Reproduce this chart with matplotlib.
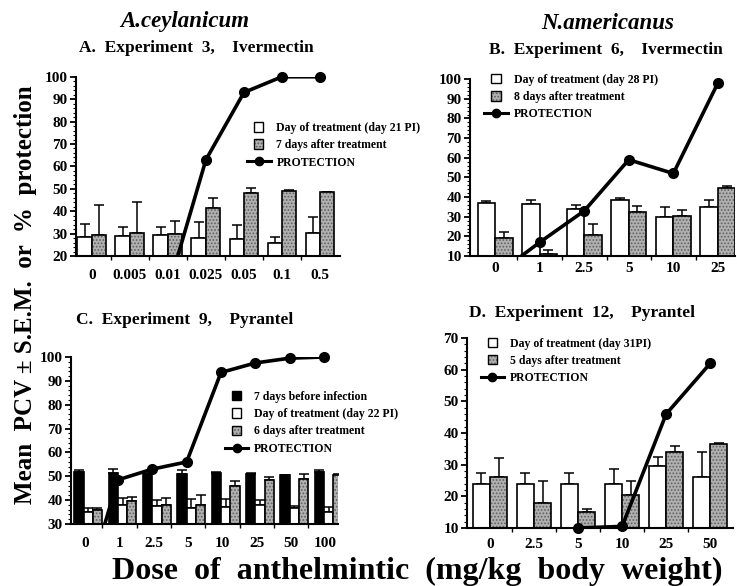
import numpy as np
import matplotlib
matplotlib.use("Agg")
import matplotlib.pyplot as plt
from matplotlib.patches import Rectangle, Patch
from matplotlib.lines import Line2D
from matplotlib.legend_handler import HandlerPatch
from matplotlib.ticker import MultipleLocator, FixedLocator

plt.rcParams['font.family'] = ['Liberation Serif', 'DejaVu Serif']
plt.rcParams['font.weight'] = 'bold'
plt.rcParams['hatch.linewidth'] = 0.8

# ---------------- data ----------------
a_doses = ["0", "0.005", "0.01", "0.025", "0.05", "0.1", "0.5"]
a_day = [28.5, 29, 29.5, 28, 27.5, 26, 30.5]
a_day_sem = [6, 4, 3.5, 7, 6.5, 2.5, 7]
a_after = [29.5, 30.5, 30, 41.5, 48, 49, 48.5]
a_after_sem = [13.5, 13.5, 5.5, 4.5, 2.5, 0.5, 0.3]
a_prot = [np.nan, np.nan, 5, 63, 93, 100, 100]

b_doses = ["0", "1", "2.5", "5", "10", "25"]
b_day = [37, 36.5, 34, 38.5, 30, 35]
b_day_sem = [1, 2, 2, 1, 5, 3.5]
b_after = [19, 11, 20.5, 32.5, 30.5, 44.5]
b_after_sem = [3.5, 2, 6, 3, 3, 1]
b_prot = [0, 17, 33, 59, 52, 98]

c_doses = ["0", "1", "2.5", "5", "10", "25", "50", "100"]
c_before = [52, 51.5, 51, 51, 51.5, 51, 50.5, 52]
c_before_sem = [0.5, 1.5, 0.5, 1.5, 0.5, 0.5, 0.2, 0.5]
c_day = [35, 38, 37.5, 36.5, 37, 38, 36.5, 35]
c_day_sem = [1.5, 3, 2.5, 4, 3.5, 2, 1, 2]
c_after = [36, 39.5, 38, 38, 46, 48.5, 49, 50.5]
c_after_sem = [0.5, 2, 3, 4, 2, 1, 2, 0.3]
c_prot = [0, 48.5, 53, 56, 93.5, 97.5, 99.5, 100]

d_doses = ["0", "2.5", "5", "10", "25", "50"]
d_day = [24, 24, 24, 24, 29.5, 26]
d_day_sem = [3.5, 3.5, 3.5, 4.5, 3, 8]
d_after = [26, 18, 15, 20.5, 34, 36.5]
d_after_sem = [6, 7, 1, 4.5, 2, 0.5]
d_prot = [np.nan, np.nan, 10, 10.5, 46, 62]

# ---------------- styles ----------------
GRAY = '#b0b0b0'
HATCHC = '#606060'
TICKFS = 11

fig = plt.figure(figsize=(7.37, 5.86), dpi=100)


def bars(ax, x, vals, sem, w, kind):
    x = np.asarray(x, float)
    if kind == 'white':
        ax.bar(x, vals, w, color='white', edgecolor='black', lw=1.2, zorder=2)
    elif kind == 'black':
        ax.bar(x, vals, w, color='black', edgecolor='black', lw=1.2, zorder=2)
    else:
        ax.bar(x, vals, w, color=GRAY, edgecolor=HATCHC, hatch='.....', lw=0, zorder=2)
        ax.bar(x, vals, w, fill=False, edgecolor='black', lw=1.2, zorder=2.1)
    ax.errorbar(x, vals, yerr=[np.zeros(len(vals)), sem], fmt='none', ecolor='black',
                elinewidth=1.1, capsize=3.5, capthick=1.1, zorder=1.5)


class SquareHandler(HandlerPatch):
    def create_artists(self, legend, orig_handle, xdescent, ydescent, width, height,
                       fontsize, trans):
        s = height * 1.15
        x0 = -xdescent + (width - s) / 2
        y0 = -ydescent + (height - s) / 2
        if orig_handle.get_hatch():
            p1 = Rectangle((x0, y0), s, s, facecolor=GRAY, edgecolor=HATCHC,
                           hatch='.....', lw=0, transform=trans)
            p2 = Rectangle((x0, y0), s, s, fill=False, edgecolor='black', lw=1.0,
                           transform=trans)
            return [p1, p2]
        p = Rectangle((x0, y0), s, s, facecolor=orig_handle.get_facecolor(),
                      edgecolor='black', lw=1.0, transform=trans)
        return [p]


def style_axis(ax, ylim, ymaj, n, xlim, xpad):
    ax.set_ylim(*ylim)
    ax.set_xlim(*xlim)
    ax.yaxis.set_major_locator(MultipleLocator(ymaj))
    ax.yaxis.set_minor_locator(MultipleLocator(2))
    for s in ['top', 'right']:
        ax.spines[s].set_visible(False)
    for s in ['left', 'bottom']:
        ax.spines[s].set_linewidth(1.5)
    ax.set_xticks(np.arange(n))
    ax.xaxis.set_minor_locator(FixedLocator(np.arange(n - 1) + 0.5))
    ax.tick_params(axis='x', which='major', length=0, pad=xpad, labelsize=TICKFS)
    ax.tick_params(axis='x', which='minor', length=3, width=1.0, direction='out')
    ax.tick_params(axis='y', which='major', length=4, width=1.3, labelsize=TICKFS, pad=2)
    ax.tick_params(axis='y', which='minor', length=2, width=0.8)


def prot_line(ax, x, vals, ylim):
    x = np.asarray(x, float)
    v = np.asarray(vals, float)
    ax.plot(x, v, color='black', lw=2.6, zorder=3)
    ok = v >= ylim[0]
    ax.plot(x[ok], v[ok], linestyle='none', color='black', marker='o', ms=7,
            zorder=3.1, clip_on=False)


legend_kw = dict(frameon=False, handlelength=2.0, handletextpad=0.5,
                 labelspacing=0.45, borderaxespad=0, borderpad=0,
                 prop={'weight': 'bold', 'size': 8.5})

# ---------------- Panel A ----------------
axA = fig.add_axes([0.103, 0.563, 0.358, 0.306])
n = len(a_doses)
xi = np.arange(n)
w = 0.38
ylA = (20, 100)
bars(axA, xi - w / 2, a_day, a_day_sem, w, 'white')
bars(axA, xi + w / 2, a_after, a_after_sem, w, 'gray')
prot_line(axA, xi, a_prot, ylA)
style_axis(axA, ylA, 10, n, (-0.42, n - 1 + 0.52), 9)
axA.set_xticklabels(a_doses)
hA = [Patch(facecolor='white'), Patch(facecolor=GRAY, hatch='.....'),
      Line2D([], [], color='black', lw=2.2, marker='o', ms=6)]
fig.legend(hA, ["Day of treatment (day 21 PI)", "7 days after treatment", "PROTECTION"],
           loc='upper left', bbox_to_anchor=(0.335, 0.792),
           handler_map={Patch: SquareHandler()}, **legend_kw)

# ---------------- Panel B ----------------
axB = fig.add_axes([0.638, 0.563, 0.359, 0.302])
n = len(b_doses)
xi = np.arange(n)
w = 0.39
ylB = (10, 100)
bars(axB, xi - w / 2, b_day, b_day_sem, w, 'white')
bars(axB, xi + w / 2, b_after, b_after_sem, w, 'gray')
prot_line(axB, xi, b_prot, ylB)
style_axis(axB, ylB, 10, n, (-0.56, n - 1 + 0.38), 4.5)
axB.set_xticklabels(b_doses)
fig.legend(hA, ["Day of treatment (day 28 PI)", "8 days after treatment", "PROTECTION"],
           loc='upper left', bbox_to_anchor=(0.657, 0.874),
           handler_map={Patch: SquareHandler()}, **legend_kw)

# ---------------- Panel C ----------------
axC = fig.add_axes([0.0963, 0.1058, 0.3623, 0.285])
n = len(c_doses)
xi = np.arange(n)
w = 0.27
ylC = (30, 100)
bars(axC, xi - w, c_before, c_before_sem, w, 'black')
bars(axC, xi, c_day, c_day_sem, w, 'white')
bars(axC, xi + w, c_after, c_after_sem, w, 'gray')
prot_line(axC, xi - w / 2, c_prot, ylC)
style_axis(axC, ylC, 10, n, (-0.5, n - 1 + 0.27), 9)
axC.set_xticks(xi - w / 3)
axC.xaxis.set_minor_locator(FixedLocator(np.arange(n - 1) + 0.5 - w / 3))
axC.set_xticklabels(c_doses)
hC = [Patch(facecolor='black'), Patch(facecolor='white'), Patch(facecolor=GRAY, hatch='.....'),
      Line2D([], [], color='black', lw=2.2, marker='o', ms=6)]
fig.legend(hC, ["7 days before infection", "Day of treatment (day 22 PI)",
                "6 days after treatment", "PROTECTION"],
           loc='upper left', bbox_to_anchor=(0.305, 0.333),
           handler_map={Patch: SquareHandler()}, **legend_kw)

# ---------------- Panel D ----------------
axD = fig.add_axes([0.6337, 0.099, 0.361, 0.324])
n = len(d_doses)
xi = np.arange(n)
w = 0.39
ylD = (10, 70)
bars(axD, xi - w / 2, d_day, d_day_sem, w, 'white')
bars(axD, xi + w / 2, d_after, d_after_sem, w, 'gray')
prot_line(axD, xi, d_prot, ylD)
style_axis(axD, ylD, 10, n, (-0.52, n - 1 + 0.52), 7)
axD.set_xticklabels(d_doses)
fig.legend(hA, ["Day of treatment (day 31PI)", "5 days after treatment", "PROTECTION"],
           loc='upper left', bbox_to_anchor=(0.652, 0.424),
           handler_map={Patch: SquareHandler()}, **legend_kw)

# ---------------- titles & labels ----------------
fig.text(0.251, 0.964, "A.ceylanicum", ha='center', va='center', fontsize=16.5,
         fontstyle='italic', fontweight='bold')
fig.text(0.825, 0.960, "N.americanus", ha='center', va='center', fontsize=16.5,
         fontstyle='italic', fontweight='bold')
fig.text(0.267, 0.918, "A.  Experiment  3,    Ivermectin", ha='center', va='center',
         fontsize=12.5, fontweight='bold')
fig.text(0.822, 0.915, "B.  Experiment  6,    Ivermectin", ha='center', va='center',
         fontsize=12.5, fontweight='bold')
fig.text(0.251, 0.454, "C.  Experiment  9,    Pyrantel", ha='center', va='center',
         fontsize=12.5, fontweight='bold')
fig.text(0.79, 0.466, "D.  Experiment  12,    Pyrantel", ha='center', va='center',
         fontsize=12.5, fontweight='bold')
fig.text(0.034, 0.497, "Mean  PCV \u00b1 S.E.M.  or  %  protection", rotation=90,
         ha='center', va='center', fontsize=18, fontweight='bold')
fig.text(0.566, 0.012, "Dose  of  anthelmintic  (mg/kg  body  weight)", ha='center',
         va='baseline', fontsize=23, fontweight='bold')

fig.savefig("out.png", dpi=100)
